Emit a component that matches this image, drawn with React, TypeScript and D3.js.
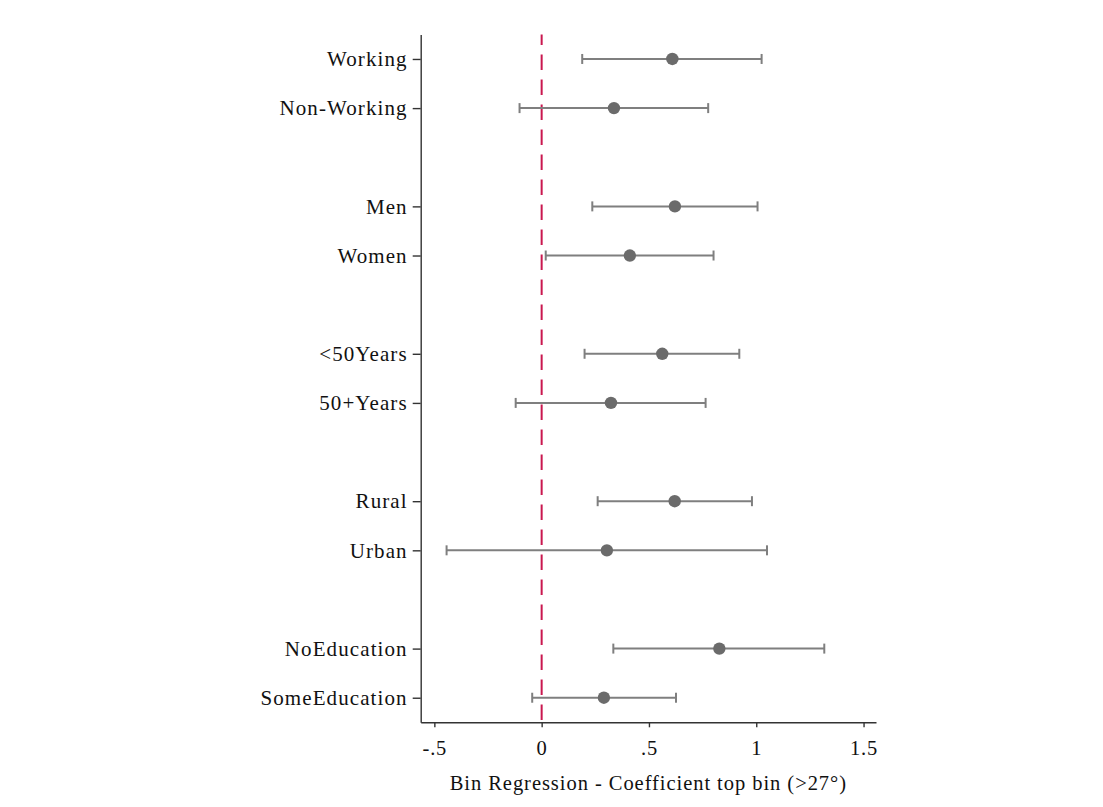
import { useEffect, useRef } from 'react';
import * as d3 from 'd3';

const groups = ['Working', 'Non-Working', 'Men', 'Women', '<50Years', '50+Years', 'Rural', 'Urban', 'NoEducation', 'SomeEducation'];
const rowPos = [1, 2, 4, 5, 7, 8, 10, 11, 13, 14];
const coef = [0.609, 0.337, 0.621, 0.411, 0.562, 0.323, 0.62, 0.304, 0.828, 0.29];
const ciLow = [0.189, -0.103, 0.236, 0.019, 0.2, -0.121, 0.261, -0.443, 0.334, -0.044];
const ciHigh = [1.025, 0.776, 1.006, 0.801, 0.921, 0.764, 0.98, 1.05, 1.317, 0.626];
const xTicks = [-0.5, 0, 0.5, 1, 1.5];
const xTickLabels = ['-.5', '0', '.5', '1', '1.5'];
const xTitle = 'Bin Regression - Coefficient top bin (>27°)';

const W = 1103;
const H = 807;
const FONT = '"Liberation Serif", "DejaVu Serif", serif';

export default function App() {
  const svgRef = useRef<SVGSVGElement>(null);

  useEffect(() => {
    if (!svgRef.current) return;
    const svg = d3.select(svgRef.current);
    svg.selectAll('*').remove();

    const left = 420.7;
    const right = 876;
    const top = 34.4;
    const bottom = 722.3;

    const x = d3.scaleLinear().domain([-0.5636, 1.558]).range([left, right]);
    const y = d3.scaleLinear().domain([0.5, 14.5]).range([top, bottom]);

    svg.append('rect').attr('width', W).attr('height', H).attr('fill', '#fff');

    // x axis
    const xAxis = svg.append('g')
      .attr('transform', `translate(0,${bottom})`)
      .call(d3.axisBottom(x)
        .tickValues(xTicks)
        .tickFormat((_, i) => xTickLabels[i])
        .tickSize(5)
        .tickPadding(13)
        .tickSizeOuter(0));
    xAxis.select('.domain').attr('stroke', '#333').attr('stroke-width', 1.4);
    xAxis.selectAll('.tick line').attr('stroke', '#333').attr('stroke-width', 1.4);
    xAxis.selectAll('.tick text')
      .style('font-family', FONT)
      .style('font-size', '20.5px')
      .style('letter-spacing', '0.8px')
      .attr('fill', '#111');

    // y axis
    const yAxis = svg.append('g')
      .attr('transform', `translate(${left},0)`)
      .call(d3.axisLeft(y)
        .tickValues(rowPos)
        .tickFormat((_, i) => groups[i])
        .tickSize(8)
        .tickPadding(5)
        .tickSizeOuter(0));
    yAxis.select('.domain').attr('stroke', '#333').attr('stroke-width', 1.4);
    yAxis.selectAll('.tick line').attr('stroke', '#333').attr('stroke-width', 1.4);
    yAxis.selectAll('.tick text')
      .style('font-family', FONT)
      .style('font-size', '21px')
      .style('letter-spacing', '1.1px')
      .attr('fill', '#111');

    // reference line at zero
    svg.append('line')
      .attr('x1', x(0)).attr('x2', x(0))
      .attr('y1', top).attr('y2', bottom)
      .attr('stroke', '#c9184f')
      .attr('stroke-width', 2)
      .attr('stroke-dasharray', '15.5,9.5')
      .attr('stroke-dashoffset', 5);

    const rows = groups.map((g, i) => ({ g, pos: rowPos[i], b: coef[i], lo: ciLow[i], hi: ciHigh[i] }));

    // confidence intervals
    const ci = svg.append('g').selectAll('g').data(rows).enter().append('g');
    ci.append('line')
      .attr('x1', d => x(d.lo)).attr('x2', d => x(d.hi))
      .attr('y1', d => y(d.pos)).attr('y2', d => y(d.pos))
      .attr('stroke', '#7f7f7f').attr('stroke-width', 2);
    ci.append('line')
      .attr('x1', d => x(d.lo)).attr('x2', d => x(d.lo))
      .attr('y1', d => y(d.pos) - 5).attr('y2', d => y(d.pos) + 5)
      .attr('stroke', '#7f7f7f').attr('stroke-width', 2);
    ci.append('line')
      .attr('x1', d => x(d.hi)).attr('x2', d => x(d.hi))
      .attr('y1', d => y(d.pos) - 5).attr('y2', d => y(d.pos) + 5)
      .attr('stroke', '#7f7f7f').attr('stroke-width', 2);

    // point estimates
    svg.append('g').selectAll('circle').data(rows).enter().append('circle')
      .attr('cx', d => x(d.b))
      .attr('cy', d => y(d.pos))
      .attr('r', 6.2)
      .attr('fill', '#6b6b6b');

    // x title
    svg.append('text')
      .attr('x', (left + right) / 2)
      .attr('y', 790)
      .attr('text-anchor', 'middle')
      .style('font-family', FONT)
      .style('font-size', '20.5px')
      .style('letter-spacing', '0.95px')
      .attr('fill', '#111')
      .text(xTitle);
  }, []);

  return (
    <svg
      ref={svgRef}
      width={W}
      height={H}
      style={{ position: 'absolute', left: 0, top: 0 }}
    />
  );
}
